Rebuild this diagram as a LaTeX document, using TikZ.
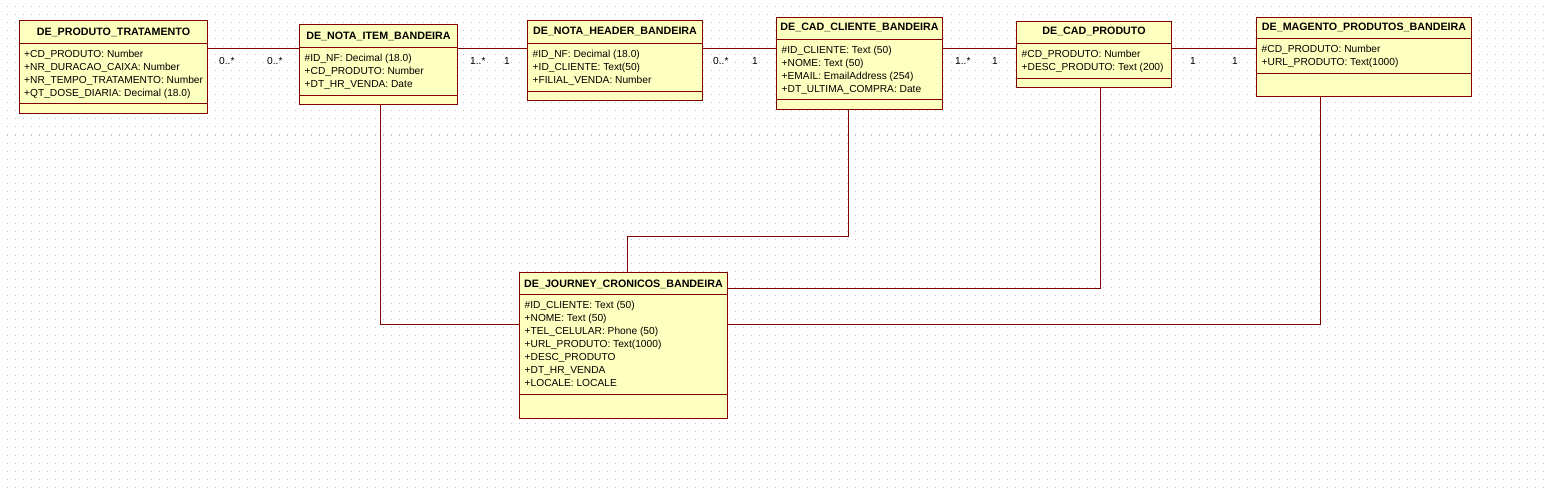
\documentclass[tikz,border=0pt]{standalone}
\usepackage{fontspec}
\setmainfont{Liberation Sans}
\definecolor{umlred}{RGB}{128,0,0}
\definecolor{umlyellow}{RGB}{255,255,192}
\definecolor{gridgray}{RGB}{190,190,190}
\tikzset{
  classbox/.style={rectangle, draw=umlred, fill=umlyellow, line width=1pt, inner sep=0pt, outer sep=0pt, anchor=north west},
  sepline/.style={umlred, line width=1pt},
  classtitle/.style={font=\bfseries\fontsize{10.7}{13}\selectfont, inner sep=0pt, anchor=base},
  classattr/.style={font=\fontsize{10.2}{13}\selectfont, align=left, inner sep=0pt, anchor=north west},
  mult/.style={font=\fontsize{10.2}{13}\selectfont, inner sep=0pt, anchor=base west},
  assoc/.style={umlred, line width=1pt},
  griddot/.style={gridgray, line width=1pt, dash pattern=on 1pt off 7pt}
}
\begin{document}
\begin{tikzpicture}[x=1pt, y=-1pt]
  % Canvas with dotted grid
  \useasboundingbox (0,0) rectangle (1549,492);
  \fill[white] (0,0) rectangle (1549,492);
  \foreach \gy in {7,15,...,487}
    \draw[griddot] (7,\gy) -- (1549,\gy);

  % DE_PRODUTO_TRATAMENTO
  \node[classbox, minimum width=188pt, minimum height=93pt] (tratamento) at (19.5,20.5) {};
  \draw[sepline] (19.5,43.5) -- (207.5,43.5) (19.5,103.5) -- (207.5,103.5);
  \node[classtitle] (tratamento-t) at (113.5,35.5) {DE\_PRODUTO\_TRATAMENTO};
  \node[classattr] (tratamento-a) at (24,49.8)
    {+CD\_PRODUTO: Number\\+NR\_DURACAO\_CAIXA: Number\\+NR\_TEMPO\_TRATAMENTO: Number\\+QT\_DOSE\_DIARIA: Decimal (18.0)};

  % DE_NOTA_ITEM_BANDEIRA
  \node[classbox, minimum width=158pt, minimum height=80pt] (item) at (299.5,24.5) {};
  \draw[sepline] (299.5,47.5) -- (457.5,47.5) (299.5,95.5) -- (457.5,95.5);
  \node[classtitle] (item-t) at (378.5,39.5) {DE\_NOTA\_ITEM\_BANDEIRA};
  \node[classattr] (item-a) at (304.5,53.8)
    {\#ID\_NF: Decimal (18.0)\\+CD\_PRODUTO: Number\\+DT\_HR\_VENDA: Date};

  % DE_NOTA_HEADER_BANDEIRA
  \node[classbox, minimum width=175pt, minimum height=80pt] (header) at (527.5,20.5) {};
  \draw[sepline] (527.5,43.5) -- (702.5,43.5) (527.5,91.5) -- (702.5,91.5);
  \node[classtitle] (header-t) at (615,35) {DE\_NOTA\_HEADER\_BANDEIRA};
  \node[classattr] (header-a) at (532.5,49.8)
    {\#ID\_NF: Decimal (18.0)\\+ID\_CLIENTE: Text(50)\\+FILIAL\_VENDA: Number};

  % DE_CAD_CLIENTE_BANDEIRA
  \node[classbox, minimum width=166pt, minimum height=92pt] (cliente) at (776.5,17.5) {};
  \draw[sepline] (776.5,39.5) -- (942.5,39.5) (776.5,99.5) -- (942.5,99.5);
  \node[classtitle] (cliente-t) at (859.5,31) {DE\_CAD\_CLIENTE\_BANDEIRA};
  \node[classattr] (cliente-a) at (781.5,45.8)
    {\#ID\_CLIENTE: Text (50)\\+NOME: Text (50)\\+EMAIL: EmailAddress (254)\\+DT\_ULTIMA\_COMPRA: Date};

  % DE_CAD_PRODUTO
  \node[classbox, minimum width=155pt, minimum height=66pt] (cadproduto) at (1016.5,21.5) {};
  \draw[sepline] (1016.5,43.5) -- (1171.5,43.5) (1016.5,78.5) -- (1171.5,78.5);
  \node[classtitle] (cadproduto-t) at (1094,34.5) {DE\_CAD\_PRODUTO};
  \node[classattr] (cadproduto-a) at (1021.5,49.8)
    {\#CD\_PRODUTO: Number\\+DESC\_PRODUTO: Text (200)};

  % DE_MAGENTO_PRODUTOS_BANDEIRA
  \node[classbox, minimum width=215pt, minimum height=79pt] (magento) at (1256.5,17.5) {};
  \draw[sepline] (1256.5,38.5) -- (1471.5,38.5) (1256.5,73.5) -- (1471.5,73.5);
  \node[classtitle] (magento-t) at (1364,31) {DE\_MAGENTO\_PRODUTOS\_BANDEIRA};
  \node[classattr] (magento-a) at (1261.5,44.8)
    {\#CD\_PRODUTO: Number\\+URL\_PRODUTO: Text(1000)};

  % DE_JOURNEY_CRONICOS_BANDEIRA
  \node[classbox, minimum width=208pt, minimum height=146pt] (journey) at (519.5,272.5) {};
  \draw[sepline] (519.5,294.5) -- (727.5,294.5) (519.5,394.5) -- (727.5,394.5);
  \node[classtitle] (journey-t) at (623.5,287) {DE\_JOURNEY\_CRONICOS\_BANDEIRA};
  \node[classattr] (journey-a) at (524.5,300.8)
    {\#ID\_CLIENTE: Text (50)\\+NOME: Text (50)\\+TEL\_CELULAR: Phone (50)\\+URL\_PRODUTO: Text(1000)\\+DESC\_PRODUTO\\+DT\_HR\_VENDA\\+LOCALE: LOCALE};

  % Associations along the top row
  \coordinate (rowlink) at (0,48.5);
  \draw[assoc] (tratamento.east |- rowlink) -- (item.west |- rowlink);
  \draw[assoc] (item.east |- rowlink) -- (header.west |- rowlink);
  \draw[assoc] (header.east |- rowlink) -- (cliente.west |- rowlink);
  \draw[assoc] (cliente.east |- rowlink) -- (cadproduto.west |- rowlink);
  \draw[assoc] (cadproduto.east |- rowlink) -- (magento.west |- rowlink);

  % Multiplicities
  \node[mult] (m1) at (219,65) {0..*};
  \node[mult] (m2) at (267,65) {0..*};
  \node[mult] (m3) at (470,65) {1..*};
  \node[mult] (m4) at (504,65) {1};
  \node[mult] (m5) at (713,65) {0..*};
  \node[mult] (m6) at (752,65) {1};
  \node[mult] (m7) at (955,65) {1..*};
  \node[mult] (m8) at (992,65) {1};
  \node[mult] (m9) at (1190,65) {1};
  \node[mult] (m10) at (1232,65) {1};

  % Links down to the journey table
  \coordinate (lowlink) at (0,324.5);
  \coordinate (clientebend) at (0,236.5);
  \coordinate (prodlink) at (0,288.5);
  \draw[assoc] ([xshift=2pt]item.south) |- (journey.west |- lowlink);
  \draw[assoc] ([xshift=-11pt]cliente.south) |- ([xshift=4pt]journey.north |- clientebend) -- ([xshift=4pt]journey.north);
  \draw[assoc] ([xshift=6.5pt]cadproduto.south) |- (journey.east |- prodlink);
  \draw[assoc] ([xshift=-43.5pt]magento.south) |- (journey.east |- lowlink);
\end{tikzpicture}
\end{document}
